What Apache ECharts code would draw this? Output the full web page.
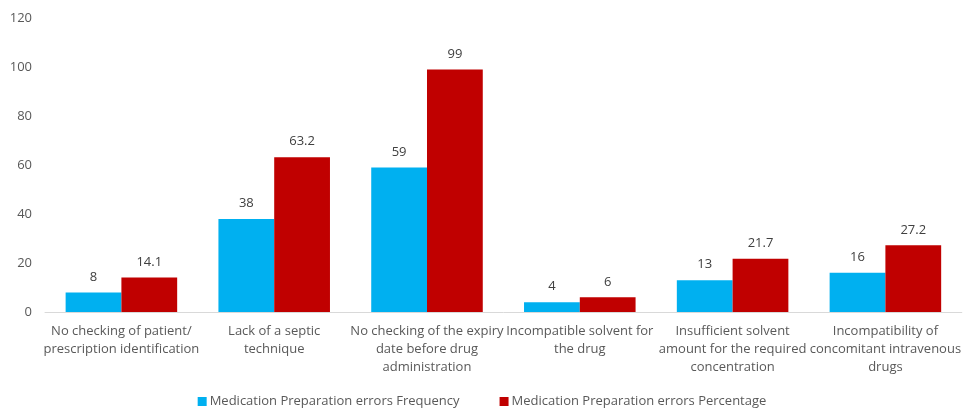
<!DOCTYPE html>
<html><head><meta charset="utf-8">
<script src="https://cdn.jsdelivr.net/npm/echarts@6/dist/echarts.min.js"></script>
<style>html,body{margin:0;padding:0;background:#fff}#c{width:964px;height:409px}</style>
</head><body><div id="c"></div>
<script>
const categories = [
  "No checking of patient/\nprescription identification",
  "Lack of a septic\ntechnique",
  "No checking of the expiry\ndate before drug\nadministration",
  "Incompatible solvent for\nthe drug",
  "Insufficient solvent\namount for the required\nconcentration",
  "Incompatibility of\nconcomitant intravenous\ndrugs"
];
const frequency = [8, 38, 59, 4, 13, 16];
const percentage = [14.1, 63.2, 99, 6, 21.7, 27.2];
const seriesNames = ["Medication Preparation errors Frequency", "Medication Preparation errors Percentage"];
const yTicks = [0, 20, 40, 60, 80, 100, 120];

const font = "'Open Sans', 'Noto Sans', sans-serif";
const chart = echarts.init(document.getElementById('c'), null, {renderer: 'canvas'});
chart.setOption({
  animation: false,
  textStyle: {fontFamily: font},
  grid: {left: 45, right: 1, top: 18, bottom: 97, containLabel: false},
  legend: {
    bottom: 0, left: 'center', padding: [0, 5, 1, 5], itemWidth: 9, itemHeight: 9, itemGap: 40,
    icon: 'rect',
    textStyle: {fontSize: 13, color: '#595959', fontFamily: font, padding: [0, 0, 0, -2]},
    data: seriesNames
  },
  xAxis: {
    type: 'category', data: categories,
    axisLine: {lineStyle: {color: '#d9d9d9'}},
    axisTick: {show: false},
    axisLabel: {interval: 0, fontSize: 13, color: '#595959', lineHeight: 18, margin: 10, fontFamily: font}
  },
  yAxis: {
    type: 'value', min: yTicks[0], max: yTicks[yTicks.length - 1], interval: 20,
    splitLine: {show: false},
    axisLine: {show: false}, axisTick: {show: false},
    axisLabel: {fontSize: 13, color: '#595959', margin: 13, fontFamily: font}
  },
  series: [
    {name: seriesNames[0], type: 'bar', data: frequency, barGap: '0%', barCategoryGap: '27%',
     itemStyle: {color: '#00B0F0'},
     label: {show: true, position: 'top', distance: 9, fontSize: 13, color: '#404040', fontFamily: font}},
    {name: seriesNames[1], type: 'bar', data: percentage,
     itemStyle: {color: '#C00000'},
     label: {show: true, position: 'top', distance: 9, fontSize: 13, color: '#404040', fontFamily: font}}
  ]
});
</script></body></html>
